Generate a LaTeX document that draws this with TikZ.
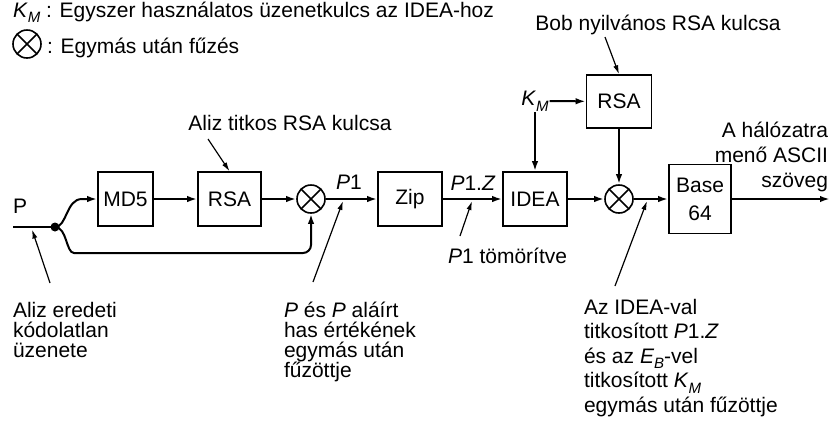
\documentclass[tikz,border=0pt]{standalone}
\usepackage{fontspec}
\setmainfont{Liberation Sans}
\usetikzlibrary{arrows.meta}
\newcommand\sbi[1]{\raisebox{-0.5ex}{\fontsize{7.5}{7.5}\selectfont\textit{#1}}}
\begin{document}
\begin{tikzpicture}[x=0.5pt,y=-0.5pt, font=\fontsize{10.5}{10}\selectfont,
 line width=1pt,
 arr/.style={-{Latex[length=5pt,width=3.2pt]}, line width=1pt},
 ptr/.style={-{Latex[length=4.5pt,width=2.6pt]}, line width=0.6pt},
 blk/.style={draw, line width=0.8pt, minimum height=27pt, inner sep=0pt},
 cat/.style={draw, circle, line width=0.8pt, minimum size=14pt, inner sep=0pt,
   path picture={\draw[line width=0.8pt] (path picture bounding box.south west) -- (path picture bounding box.north east)
     (path picture bounding box.north west) -- (path picture bounding box.south east);}},
 lbl/.style={inner sep=0pt}]
\useasboundingbox (0,0) rectangle (831,420);

% legend
\node[lbl, anchor=base west] (leg1) at (12,17) {\textit{K}\sbi{M} : Egyszer használatos üzenetkulcs az IDEA-hoz};
\node[cat] (legx) at (27,44) {};
\node[lbl, anchor=base west] (leg2) at (46,53) {: Egymás után fűzés};

% input
\node[lbl, anchor=base west] (plabel) at (12,213) {P};
\coordinate (in) at (13,227);
\node[circle, fill, inner sep=0pt, minimum size=4.5pt] (dot) at (55,227) {};

% blocks
\node[blk, minimum width=27.5pt] (md5) at (125.5,199) {MD5};
\node[blk, minimum width=31.5pt] (rsa1) at (229.5,199) {RSA};
\node[cat] (x1) at (311,199) {};
\node[blk, minimum width=32pt] (zip) at (410,199) {Zip};
\node[blk, minimum width=32pt] (idea) at (535,199) {IDEA};
\node[cat] (x2) at (619,199) {};
\node[blk, minimum width=31pt, minimum height=34.5pt, align=center, font=\fontsize{10.5}{14}\selectfont] (base) at (700,199) {Base\\64};
\node[blk, minimum width=32.5pt, minimum height=26.5pt] (rsa2) at (619,101.5) {RSA};
\node[lbl] (km) at (535,101) {\textit{K}\sbi{M}};
\coordinate (out) at (830,199);

% labels
\node[lbl, anchor=base] (p1) at (349,189) {\textit{P}1};
\node[lbl, anchor=base] (p1z) at (473,190) {\textit{P}1.\textit{Z}};
\node[lbl, anchor=base] (alizkey) at (290,130) {Aliz titkos RSA kulcsa};
\node[lbl, anchor=base] (bobkey) at (658,30) {Bob nyilvános RSA kulcsa};
\node[lbl, anchor=north east, align=right, font=\fontsize{10.5}{12.5}\selectfont] (net) at (829,121) {A hálózatra\\menő ASCII\\szöveg};
\node[lbl, anchor=north west, align=left] (orig) at (12,301) {Aliz eredeti\\kódolatlan\\üzenete};
\node[lbl, anchor=north west, align=left] (concat1) at (283,301) {\textit{P} és \textit{P} aláírt\\has értékének\\egymás után\\fűzöttje};
\node[lbl, anchor=base west] (zipped) at (447,263.5) {\textit{P}1 tömörítve};
\node[lbl, anchor=north west, align=left, font=\fontsize{10.5}{12.25}\selectfont] (concat2) at (583,298) {Az IDEA-val\\titkosított \textit{P}1.\textit{Z}\\és az \textit{E}\sbi{B}-vel\\titkosított \textit{K}\sbi{M}\\egymás után fűzöttje};

% main flow
\draw (in) -- (dot.center);
\draw[arr] (dot.center) .. controls (67,227) and (66,199) .. (82,199) -- (md5.west);
\draw[arr, rounded corners=4pt] (dot.center) .. controls (67,227) and (66,253) .. (82,253) -- (311,253) -- (x1.south);
\draw[arr] (md5) -- (rsa1);
\draw[arr] (rsa1) -- (x1);
\draw[arr] (x1) -- (zip);
\draw[arr] (zip) -- (idea);
\draw[arr] (idea) -- (x2);
\draw[arr] (x2) -- (base);
\draw[arr] (base) -- (out);
\draw[arr] (km) -- (rsa2);
\draw[arr] (km) -- (idea);
\draw[arr] (rsa2) -- (x2);

% pointers
\coordinate (t1) at (50,283); \coordinate (h1) at (32,229.5);
\coordinate (t2) at (313,282); \coordinate (h2) at (343,201);
\coordinate (t3) at (460,236); \coordinate (h3) at (472,201);
\coordinate (t4) at (615,286); \coordinate (h4) at (647,201);
\coordinate (t5) at (208,139);
\coordinate (t6) at (605,37);
\draw[ptr] (t1) -- (h1);
\draw[ptr] (t2) -- (h2);
\draw[ptr] (t3) -- (h3);
\draw[ptr] (t4) -- (h4);
\draw[ptr] (t5) -- (rsa1.north);
\draw[ptr] (t6) -- (rsa2.north);
\end{tikzpicture}
\end{document}
